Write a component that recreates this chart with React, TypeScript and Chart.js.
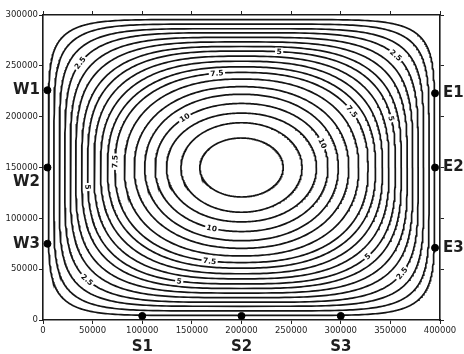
import React, { useEffect, useRef } from 'react';
import { Chart, registerables } from 'chart.js';

Chart.register(...registerables);

// ---- data ----
// contour levels (interval 0.625, labelled every 4th: 2.5, 5, 7.5, 10)
const contourLevels = [0.625, 1.25, 1.875, 2.5, 3.125, 3.75, 4.375, 5, 5.625, 6.25, 6.875, 7.5, 8.125, 8.75, 9.375, 10, 10.625, 11.25, 11.875];
// distance of each contour from the west/east wall along y = 150000
const wallCrossingX = [5500, 11000, 16500, 22000, 27500, 33000, 39000, 45000, 51500, 58000, 65000, 72500, 82000, 92000, 102500, 113000, 124500, 139000, 158000];
// distance of each contour from the south/north wall along x = 200000
const wallCrossingY = [4500, 9000, 13500, 17500, 22000, 26500, 31000, 35500, 40500, 45500, 51000, 56500, 63000, 70500, 78000, 87000, 96500, 106000, 121000];
// x-distance from the wall where each contour crosses the corner-to-centre diagonal
const diagonalCrossing = [24000, 32000, 40500, 48500, 56500, 64000, 71500, 78000, 85000, 92000, 99000, 105500, 113500, 122000, 130000, 138500, 147500, 157500, 171500];

const domainX = [0, 400000];
const domainY = [0, 300000];
const xTicks = [0, 50000, 100000, 150000, 200000, 250000, 300000, 350000, 400000];
const yTicks = [0, 50000, 100000, 150000, 200000, 250000, 300000];

// stations
const stationNames = ['W1', 'W2', 'W3', 'E1', 'E2', 'E3', 'S1', 'S2', 'S3'];
const stationX = [4500, 4500, 4500, 395000, 395000, 395000, 100000, 200000, 300000];
const stationY = [226000, 150000, 75000, 223000, 150000, 71000, 4000, 4000, 4000];

// contour labels
const labelLevels = [2.5, 5, 7.5, 2.5, 7.5, 5, 10, 10, 7.5, 5, 10, 7.5, 5, 2.5, 5, 2.5];
const labelX = [37300, 236800, 175300, 354700, 311300, 348600, 143100, 277100, 72500, 45300, 170300, 168300, 136000, 42300, 327500, 359700];
const labelY = [252800, 263600, 242900, 258700, 204600, 197700, 199700, 172100, 155400, 129800, 91500, 56100, 37400, 37400, 62000, 47200];

type Pt = { x: number; y: number };

function contourPath(i: number): Pt[] {
  const cx = (domainX[0] + domainX[1]) / 2;
  const cy = (domainY[0] + domainY[1]) / 2;
  const halfW = cx - domainX[0];
  const halfH = cy - domainY[0];
  const A = halfW - wallCrossingX[i];
  const B = halfH - wallCrossingY[i];
  const t = 1 - diagonalCrossing[i] / halfW;
  // find the squareness that passes through the diagonal crossing
  let lo = 1.2;
  let hi = 40;
  for (let k = 0; k < 80; k++) {
    const mid = (lo + hi) / 2;
    const v = Math.pow(Math.pow(halfW / A, mid) + Math.pow(halfH / B, mid), -1 / mid);
    if (v < t) lo = mid;
    else hi = mid;
  }
  const n = (lo + hi) / 2;
  const e = 2 / n;
  const N = 360;
  const pts: Pt[] = [];
  for (let j = 0; j <= N; j++) {
    const th = (2 * Math.PI * j) / N;
    const c = Math.cos(th);
    const s = Math.sin(th);
    pts.push({
      x: cx + A * Math.sign(c) * Math.pow(Math.abs(c), e),
      y: cy + B * Math.sign(s) * Math.pow(Math.abs(s), e),
    });
  }
  return pts;
}

export default function App() {
  const ref = useRef<HTMLCanvasElement>(null);

  useEffect(() => {
    const canvas = ref.current;
    if (!canvas) return;
    const paths = contourLevels.map((_, i) => contourPath(i));

    const contourLabels = {
      id: 'contourLabels',
      afterDatasetsDraw(chart: any) {
        const { ctx } = chart;
        const xs = chart.scales.x;
        const ys = chart.scales.y;
        ctx.save();
        ctx.font = 'bold 7.5px "DejaVu Sans"';
        labelLevels.forEach((lvl, j) => {
          const i = contourLevels.findIndex((c) => Math.abs(c - lvl) < 1e-6);
          if (i < 0) return;
          const pts = paths[i].slice(0, -1).map((p) => ({ px: xs.getPixelForValue(p.x), py: ys.getPixelForValue(p.y) }));
          const tx = xs.getPixelForValue(labelX[j]);
          const ty = ys.getPixelForValue(labelY[j]);
          let best = 0;
          let bd = Infinity;
          pts.forEach((p, k) => {
            const d = (p.px - tx) ** 2 + (p.py - ty) ** 2;
            if (d < bd) { bd = d; best = k; }
          });
          const a = pts[(best - 3 + pts.length) % pts.length];
          const b = pts[(best + 3) % pts.length];
          let ang = Math.atan2(b.py - a.py, b.px - a.px);
          if (ang > Math.PI / 2) ang -= Math.PI;
          if (ang < -Math.PI / 2) ang += Math.PI;
          const text = String(lvl);
          const w = ctx.measureText(text).width;
          ctx.save();
          ctx.translate(pts[best].px, pts[best].py);
          ctx.rotate(ang);
          ctx.fillStyle = '#ffffff';
          ctx.fillRect(-w / 2 - 1.5, -4, w + 3, 8);
          ctx.fillStyle = '#111111';
          ctx.textAlign = 'center';
          ctx.textBaseline = 'middle';
          ctx.fillText(text, 0, 0.5);
          ctx.restore();
        });
        ctx.restore();
      },
    };

    const stationLabels = {
      id: 'stationLabels',
      afterDraw(chart: any) {
        const { ctx, chartArea } = chart;
        const xs = chart.scales.x;
        const ys = chart.scales.y;
        ctx.save();
        ctx.font = 'bold 15px "DejaVu Sans"';
        ctx.fillStyle = '#1e1e1e';
        ctx.textBaseline = 'middle';
        stationNames.forEach((name, i) => {
          const px = xs.getPixelForValue(stationX[i]);
          const py = ys.getPixelForValue(stationY[i]);
          const side = name[0];
          if (side === 'W') {
            ctx.textAlign = 'right';
            let ly = py;
            if (yTicks.some((v) => Math.abs(ys.getPixelForValue(v) - py) < 8)) ly = py + 15;
            ctx.fillText(name, chartArea.left - 3, ly);
          } else if (side === 'E') {
            ctx.textAlign = 'left';
            ctx.fillText(name, chartArea.right + 3, py);
          } else {
            ctx.textAlign = 'center';
            ctx.fillText(name, px, chartArea.bottom + 27);
          }
        });
        ctx.restore();
      },
    };

    const tickFont = { family: '"DejaVu Sans"', size: 8.5 };
    const gridCfg = { display: true, drawOnChartArea: false, drawTicks: true, tickLength: 4, color: '#222222', lineWidth: 1 };
    const borderCfg = { display: true, color: '#1a1a1a', width: 1.6 };

    const chart = new Chart(canvas, {
      type: 'scatter',
      data: {
        datasets: [
          {
            label: 'stations',
            data: stationNames.map((_, i) => ({ x: stationX[i], y: stationY[i] })),
            pointRadius: 3.5,
            pointBackgroundColor: '#000000',
            pointBorderColor: '#000000',
            showLine: false,
            order: 0,
          } as any,
          ...contourLevels.map((lvl, i) => ({
            label: 'psi ' + lvl,
            data: paths[i],
            showLine: true,
            pointRadius: 0,
            borderColor: '#141414',
            borderWidth: 1.7,
            tension: 0,
            fill: false,
            order: 1,
          })),
        ],
      },
      options: {
        animation: false,
        responsive: false,
        events: [],
        layout: { padding: 0 },
        plugins: { legend: { display: false }, tooltip: { enabled: false } },
        scales: {
          x: {
            type: 'linear',
            position: 'bottom',
            min: domainX[0],
            max: domainX[1],
            afterBuildTicks: (s: any) => { s.ticks = xTicks.map((v) => ({ value: v })); },
            afterFit: (s: any) => { s.height = 34; },
            ticks: { color: '#1e1e1e', font: tickFont, padding: 2, maxRotation: 0, autoSkip: false, callback: (v: any) => String(v) },
            grid: gridCfg,
            border: borderCfg,
          },
          y: {
            type: 'linear',
            position: 'left',
            min: domainY[0],
            max: domainY[1],
            afterBuildTicks: (s: any) => { s.ticks = yTicks.map((v) => ({ value: v })); },
            afterFit: (s: any) => { s.width = 43; },
            ticks: { color: '#1e1e1e', font: tickFont, padding: 1, autoSkip: false, callback: (v: any) => String(v) },
            grid: gridCfg,
            border: borderCfg,
          },
          x2: {
            type: 'linear',
            position: 'top',
            min: domainX[0],
            max: domainX[1],
            afterBuildTicks: (s: any) => { s.ticks = xTicks.map((v) => ({ value: v })); },
            afterFit: (s: any) => { s.height = 15; },
            ticks: { display: false },
            grid: gridCfg,
            border: borderCfg,
          },
          y2: {
            type: 'linear',
            position: 'right',
            min: domainY[0],
            max: domainY[1],
            afterBuildTicks: (s: any) => { s.ticks = yTicks.map((v) => ({ value: v })); },
            afterFit: (s: any) => { s.width = 24; },
            ticks: { display: false },
            grid: gridCfg,
            border: borderCfg,
          },
        },
      } as any,
      plugins: [contourLabels, stationLabels],
    });
    return () => chart.destroy();
  }, []);

  return (
    <div style={{ position: 'absolute', left: 0, top: 0, width: 464, height: 354, background: '#ffffff' }}>
      <canvas ref={ref} width={464} height={354} style={{ display: 'block' }} />
    </div>
  );
}
